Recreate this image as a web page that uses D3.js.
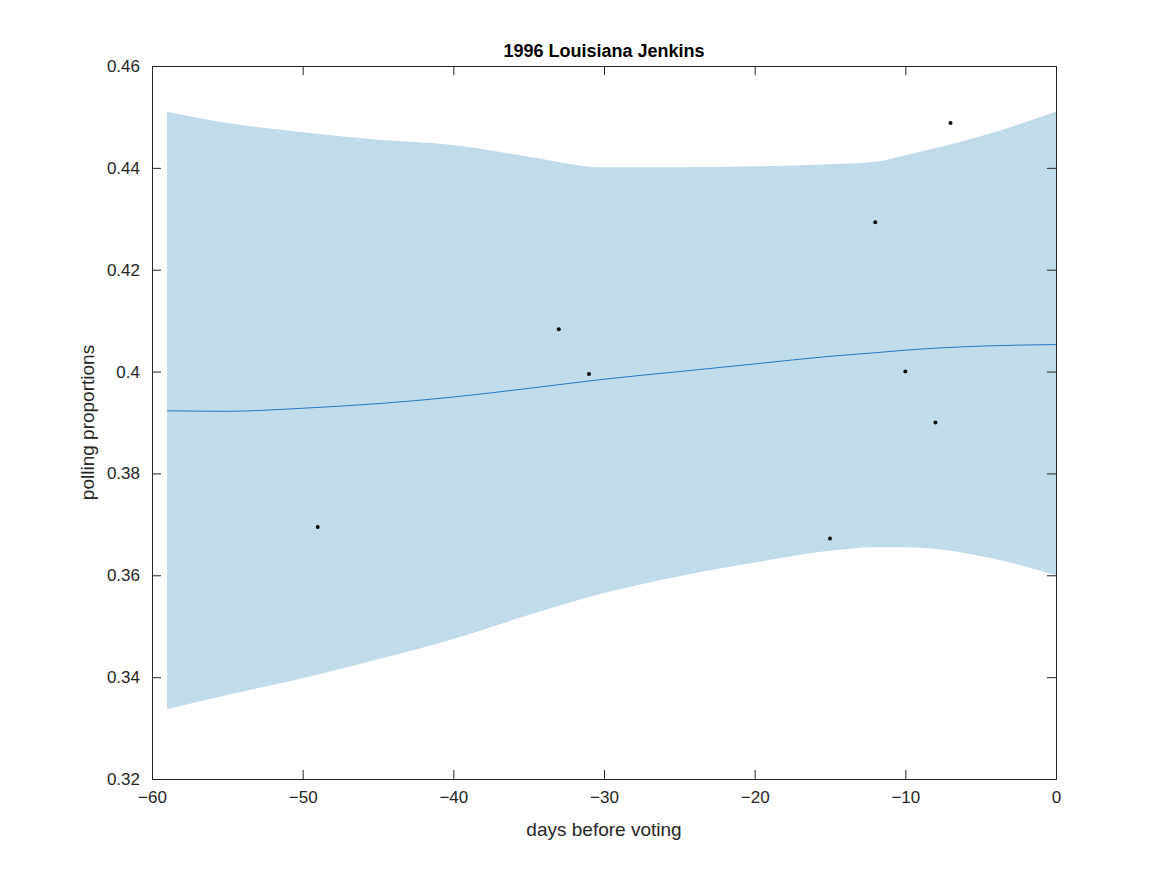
<!DOCTYPE html>
<html><head><meta charset="utf-8">
<script src="https://cdn.jsdelivr.net/npm/d3@7"></script>
<style>body{margin:0;background:#fff}text{font-family:"Liberation Sans",Arial,sans-serif}</style>
</head><body><svg id="c" width="1167" height="875"></svg>
<script>
const days=[-59,-55,-50,-45,-40,-35,-30,-25,-20,-15,-12,-10,-5,0];
const meanVals=[0.3923,0.3922,0.3928,0.3937,0.395,0.3967,0.3985,0.4,0.4015,0.403,0.4037,0.4042,0.405,0.4053];
const upperVals=[0.4510,0.4488,0.4470,0.4455,0.4445,0.4405+0.0,0.4401,0.4401,0.4403,0.4407,0.4412,0.4425,0.4462,0.4510];
const lowerVals=[0.3337,0.3365,0.3398,0.3435,0.3475,0.3522,0.3565,0.3598,0.3625,0.3648,0.3655,0.3655,0.3638,0.3600];
const pollX=[-49,-33,-31,-15,-12,-10,-8,-7];
const pollY=[0.3695,0.4083,0.3995,0.3672,0.4293,0.400,0.390,0.4488];
const xTicks=[-60,-50,-40,-30,-20,-10,0];
const yTicks=[0.32,0.34,0.36,0.38,0.40,0.42,0.44,0.46];
upperVals[5]=0.4422;
const L=152,R=1056,T=66,B=779;
const x=d3.scaleLinear().domain([-60,0]).range([L,R]);
const y=d3.scaleLinear().domain([0.32,0.46]).range([B,T]);
const svg=d3.select("#c");
const band=days.map((d,i)=>({d,u:upperVals[i],l:lowerVals[i],m:meanVals[i]}));
svg.append("path").datum(band).attr("fill","#c0dcea")
 .attr("d",d3.area().x(p=>x(p.d)).y0(p=>y(p.l)).y1(p=>y(p.u)).curve(d3.curveMonotoneX));
svg.append("path").datum(band).attr("fill","none").attr("stroke","#1f78c1").attr("stroke-width",1)
 .attr("d",d3.line().x(p=>x(p.d)).y(p=>y(p.m)).curve(d3.curveMonotoneX));
svg.selectAll("circle.p").data(pollX).join("circle").attr("cx",(d)=>x(d)).attr("cy",(d,i)=>y(pollY[i])).attr("r",2).attr("fill","#000");
const g=svg.append("g");
g.append("g").attr("transform",`translate(0,${B})`).call(d3.axisBottom(x).tickValues(xTicks).tickSizeInner(-9).tickSizeOuter(0).tickPadding(12));
g.append("g").attr("transform",`translate(0,${T})`).call(d3.axisTop(x).tickValues(xTicks).tickSizeInner(-9).tickSizeOuter(0).tickFormat(""));
g.append("g").attr("transform",`translate(${L},0)`).call(d3.axisLeft(y).tickValues(yTicks).tickSizeInner(-9).tickSizeOuter(0).tickPadding(12).tickFormat(d=>d===0.4?"0.4":d3.format(".2f")(d)));
g.append("g").attr("transform",`translate(${R},0)`).call(d3.axisRight(y).tickValues(yTicks).tickSizeInner(-9).tickSizeOuter(0).tickFormat(""));
g.selectAll("path.domain,line").attr("stroke","#262626");
g.selectAll("text").attr("font-size",17).attr("fill","#262626").attr("font-family","Liberation Sans, Arial, sans-serif");
svg.append("text").attr("x",(L+R)/2).attr("y",57).attr("text-anchor","middle").attr("font-size",18).attr("font-weight","bold").text("1996 Louisiana Jenkins");
svg.append("text").attr("x",(L+R)/2).attr("y",836).attr("text-anchor","middle").attr("font-size",19).attr("fill","#262626").text("days before voting");
svg.append("text").attr("transform",`translate(94,${(T+B)/2}) rotate(-90)`).attr("text-anchor","middle").attr("font-size",19).attr("fill","#262626").text("polling proportions");
</script></body></html>
